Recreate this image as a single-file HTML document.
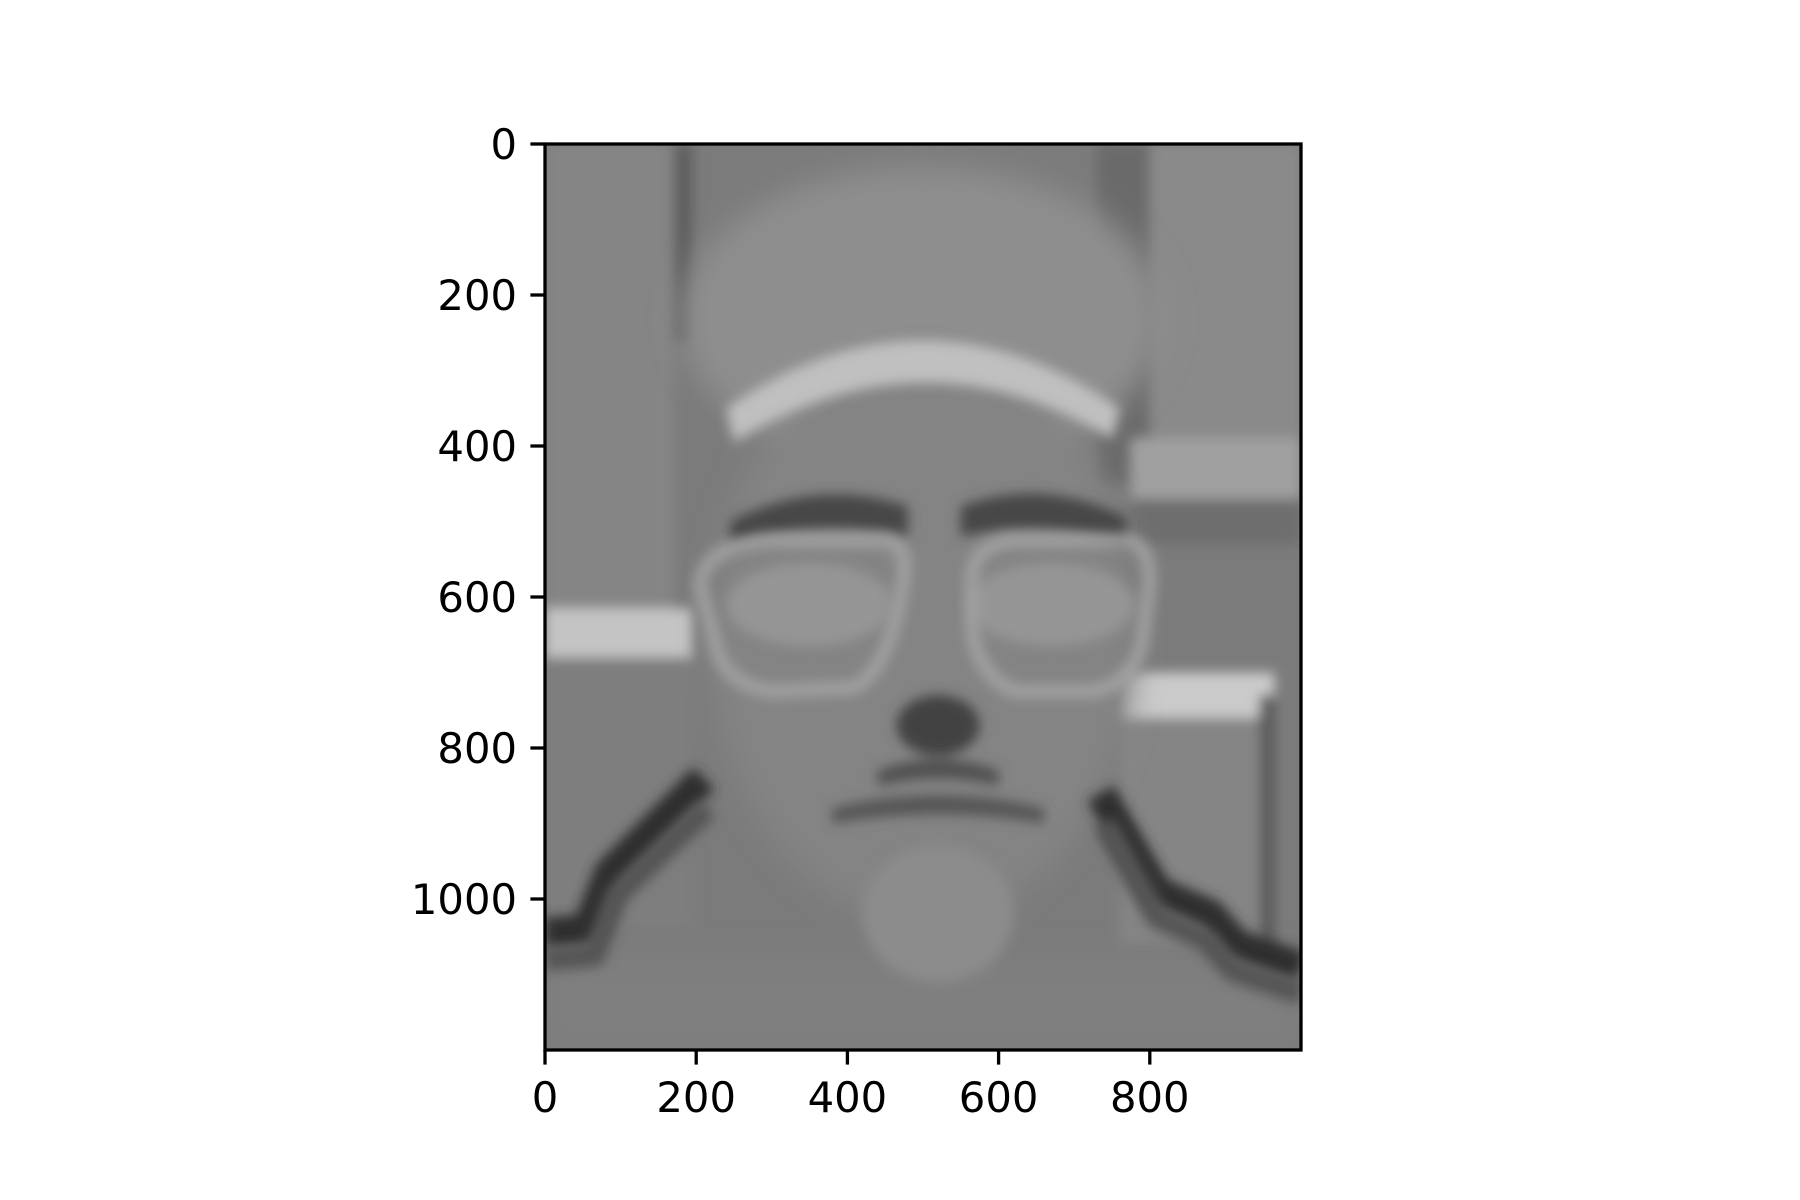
<!DOCTYPE html>
<html><head><meta charset="utf-8"><style>
html,body{margin:0;padding:0;background:#fff;}
#fig{position:relative;width:1800px;height:1200px;overflow:hidden;font-family:"DejaVu Sans","Liberation Sans",sans-serif;}
</style></head><body>
<div id="fig">
<svg id="chart" width="1800" height="1200">
<defs>
<filter id="b8" x="-20%" y="-20%" width="140%" height="140%"><feGaussianBlur stdDeviation="8"/></filter>
<filter id="b20" x="-30%" y="-30%" width="160%" height="160%"><feGaussianBlur stdDeviation="20"/></filter>
<clipPath id="clip"><rect x="0" y="0" width="1000" height="1200"/></clipPath>
</defs>
<g id="img" transform="translate(545,144) scale(0.756,0.755)" clip-path="url(#clip)">
<rect x="0" y="0" width="1000" height="1200" fill="#7b7b7b"/>
<g filter="url(#b8)">
<rect x="0" y="0" width="170" height="620" fill="#858585"/>
<rect x="170" y="0" width="25" height="260" fill="#5e5e5e"/>
<rect x="730" y="0" width="70" height="450" fill="#6a6a6a"/>
<rect x="800" y="0" width="200" height="480" fill="#8a8a8a"/>
<rect x="775" y="390" width="225" height="90" fill="#a0a0a0"/>
<rect x="775" y="470" width="225" height="60" fill="#6e6e6e"/>
<rect x="0" y="615" width="195" height="65" fill="#c4c4c4"/>
<rect x="0" y="680" width="195" height="360" fill="#7e7e7e"/>
<rect x="760" y="700" width="205" height="60" fill="#cbcbcb"/>
<rect x="760" y="760" width="205" height="300" fill="#858585"/>
<rect x="945" y="730" width="20" height="400" fill="#5a5a5a"/>
</g>
<g filter="url(#b20)">
<ellipse cx="500" cy="230" rx="320" ry="200" fill="#8e8e8e"/>
<ellipse cx="500" cy="650" rx="280" ry="380" fill="#848484"/>
<rect x="0" y="1080" width="1000" height="120" fill="#7f7f7f"/>
</g>
<g filter="url(#b8)">
<path d="M240,350 Q500,170 760,350 L750,390 Q500,240 250,395 Z" fill="#c0c0c0"/>
<path d="M245,500 Q360,440 480,480 L480,520 Q360,495 245,530 Z" fill="#474747"/>
<path d="M550,480 Q660,440 770,495 L770,530 Q660,495 550,520 Z" fill="#474747"/>
<ellipse cx="350" cy="610" rx="110" ry="55" fill="#959595"/>
<ellipse cx="670" cy="610" rx="110" ry="55" fill="#959595"/>
<ellipse cx="520" cy="770" rx="55" ry="40" fill="#424242"/>
<path d="M440,830 Q520,800 600,830 L600,850 Q520,830 440,850 Z" fill="#505050"/>
<path d="M380,880 Q520,845 660,880 L660,900 Q520,875 380,900 Z" fill="#555"/>
<ellipse cx="520" cy="1020" rx="100" ry="90" fill="#8c8c8c"/>
</g>
<g fill="none" stroke="#a4a4a4" stroke-width="18" filter="url(#b8)" opacity="0.9">
<path d="M205,585 Q210,530 300,525 L450,525 Q480,530 475,570 Q460,690 410,720 L300,725 Q235,715 225,660 Z"/>
<path d="M565,570 Q570,530 620,525 L770,525 Q800,530 800,580 L790,660 Q775,720 720,725 L620,725 Q570,700 565,640 Z"/>
</g>
<g fill="none" stroke="#2e2e2e" stroke-width="40" stroke-linejoin="round" filter="url(#b8)">
<path d="M0,1045 L55,1040 L85,965 L210,840"/>
<path d="M735,860 L810,990 L880,1020 L915,1060 L1000,1090"/>
</g>
<g fill="none" stroke="#555" stroke-width="30" stroke-linejoin="round" filter="url(#b8)">
<path d="M0,1080 L65,1075 L95,995 L215,880"/>
<path d="M740,900 L810,1025 L875,1055 L910,1095 L1000,1125"/>
</g>
</g>
<g id="axes"></g>
</svg>
</div>
<script>
const xTicks = [0, 200, 400, 600, 800];
const yTicks = [0, 200, 400, 600, 800, 1000];
const xLabels = ["0", "200", "400", "600", "800"];
const yLabels = ["0", "200", "400", "600", "800", "1000"];
const imgW = 1000, imgH = 1200;
const L = 545, R = 1301, T = 144, B = 1050;
const sx = v => L + v * (R - L) / imgW;
const sy = v => T + v * (B - T) / imgH;
const NS = "http://www.w3.org/2000/svg";
const ax = document.getElementById("axes");
function mk(tag, attrs) { const e = document.createElementNS(NS, tag); for (const k in attrs) e.setAttribute(k, attrs[k]); ax.appendChild(e); return e; }
const frame = mk("rect", {x: L, y: T, width: R - L, height: B - T, fill: "none", stroke: "#000", "stroke-width": 3.3});


xTicks.forEach((v, i) => {
  const t = mk("line", {x1: sx(v), x2: sx(v), y1: B, y2: B + 14.6, stroke: "#000", "stroke-width": 3.3});
  
  
  const tx = mk("text", {x: sx(v), y: B + 62, "text-anchor": "middle", "font-size": 41.7, fill: "#000"});
  tx.textContent = xLabels[i];
  
  
});
yTicks.forEach((v, i) => {
  const t = mk("line", {x1: L - 14.6, x2: L, y1: sy(v), y2: sy(v), stroke: "#000", "stroke-width": 3.3});
  
  
  const tx = mk("text", {x: L - 28, y: sy(v) + 15, "text-anchor": "end", "font-size": 41.7, fill: "#000"});
  tx.textContent = yLabels[i];
  
  
});
</script>
</body></html>
